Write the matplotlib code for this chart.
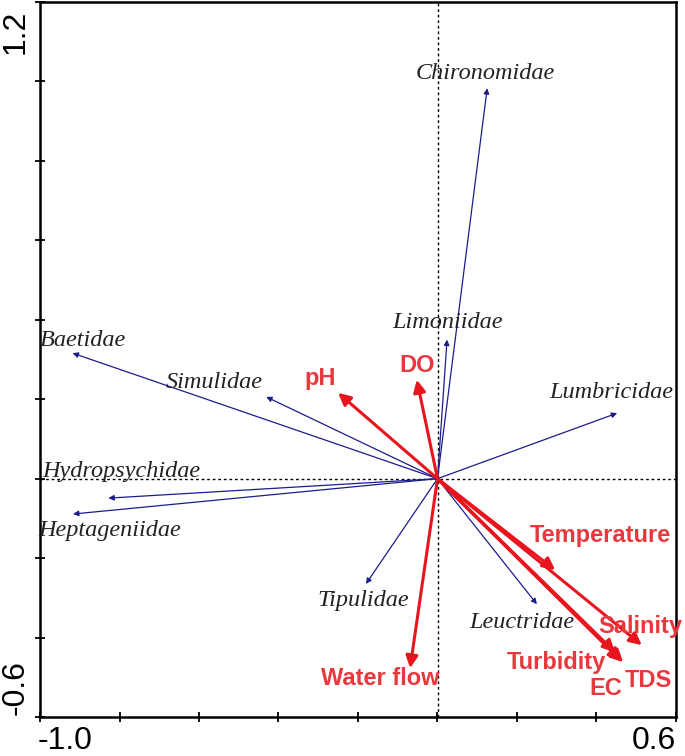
import matplotlib
matplotlib.use("Agg")
import matplotlib.pyplot as plt
import numpy as np

# species scores (blue arrows)
species = ['Chironomidae', 'Limoniidae', 'Lumbricidae', 'Baetidae', 'Simulidae',
           'Hydropsychidae', 'Heptageniidae', 'Tipulidae', 'Leuctridae']
species_x = [0.125, 0.024, 0.452, -0.918, -0.431, -0.828, -0.917, -0.180, 0.250]
species_y = [0.983, 0.350, 0.165, 0.316, 0.206, -0.049, -0.089, -0.265, -0.316]

# environmental variables (red arrows)
env = ['pH', 'DO', 'Water flow', 'Temperature', 'Salinity', 'Turbidity', 'EC', 'TDS']
env_x = [-0.250, -0.052, -0.069, 0.296, 0.514, 0.447, 0.462, 0.467]
env_y = [0.216, 0.249, -0.477, -0.230, -0.419, -0.437, -0.458, -0.462]

# where the labels sit
species_lab = {'Chironomidae': (0.121, 1.021), 'Limoniidae': (0.024, 0.392),
               'Lumbricidae': (0.437, 0.216), 'Baetidae': (-0.892, 0.349),
               'Simulidae': (-0.562, 0.243), 'Hydropsychidae': (-0.796, 0.017),
               'Heptageniidae': (-0.824, -0.131), 'Tipulidae': (-0.188, -0.306),
               'Leuctridae': (0.213, -0.361)}
env_lab = {'pH': (-0.296, 0.253), 'DO': (-0.052, 0.284), 'Water flow': (-0.145, -0.504),
           'Temperature': (0.409, -0.142), 'Salinity': (0.510, -0.371),
           'Turbidity': (0.299, -0.462), 'EC': (0.424, -0.527), 'TDS': (0.530, -0.509)}

xlim = (-1.0, 0.6)
ylim = (-0.6, 1.2)

blue = '#1c1c8c'
red = '#e8141e'
red_txt = '#e8383d'

fig = plt.figure(figsize=(6.85, 7.56), dpi=100)
ax = fig.add_axes([40 / 685, 1 - 717 / 756, 636 / 685, 715 / 756])
ax.set_xlim(xlim)
ax.set_ylim(ylim)

ax.axhline(0, color='black', lw=1, ls=(0, (2, 2)), zorder=1)
ax.axvline(0, color='black', lw=1, ls=(0, (2, 2)), zorder=1)

for name, x, y in zip(species, species_x, species_y):
    ax.annotate('', xy=(x, y), xytext=(0, 0),
                arrowprops=dict(arrowstyle='-|>', color=blue, lw=0.9,
                                mutation_scale=8, shrinkA=0, shrinkB=0), zorder=2)
    lx, ly = species_lab[name]
    ax.text(lx, ly, name, family='Liberation Serif', style='italic', fontsize=17.5,
            color='#222222', ha='center', va='center', zorder=4)

for name, x, y in zip(env, env_x, env_y):
    ax.annotate('', xy=(x, y), xytext=(0, 0),
                arrowprops=dict(arrowstyle='-|>', color=red, lw=2.2,
                                mutation_scale=18, shrinkA=0, shrinkB=0), zorder=3)
    lx, ly = env_lab[name]
    ax.text(lx, ly, name, family='Liberation Sans', weight='bold', fontsize=17,
            color=red_txt, ha='center', va='center', zorder=4)

ax.set_xticks(np.arange(-1.0, 0.61, 0.2))
ax.set_yticks(np.arange(-0.6, 1.21, 0.2))
ax.set_xticklabels([])
ax.set_yticklabels([])
ax.tick_params(direction='inout', length=7, width=1.3, color='black')
for s in ax.spines.values():
    s.set_linewidth(1.8)

# only the end values are labelled
tf = dict(family='Liberation Sans', fontsize=23, color='black')
ax.text(-0.038, ylim[1] - 0.02, '1.2', transform=ax.get_yaxis_transform(),
        rotation=90, ha='center', va='top', **tf)
ax.text(-0.038, ylim[0] + 0.005, '-0.6', transform=ax.get_yaxis_transform(),
        rotation=90, ha='center', va='bottom', **tf)
ax.text(xlim[0] - 0.005, -0.033, '-1.0', transform=ax.get_xaxis_transform(),
        ha='left', va='center', **tf)
ax.text(xlim[1], -0.033, '0.6', transform=ax.get_xaxis_transform(),
        ha='right', va='center', **tf)

fig.savefig('out.png', dpi=100)
